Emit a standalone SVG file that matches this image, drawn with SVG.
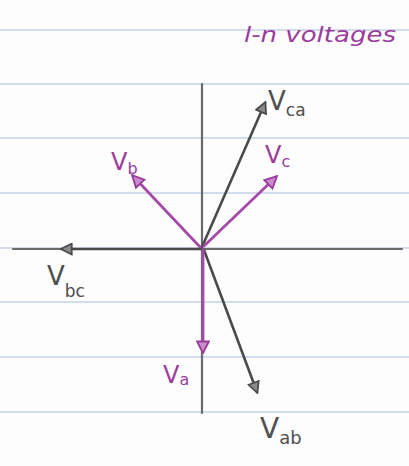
<svg xmlns="http://www.w3.org/2000/svg" width="409" height="466" viewBox="0 0 409 466">
<defs>
<style>
.rule{stroke:#c3d0e6;stroke-width:1.3}
.axis{stroke:#6b6b6b;stroke-width:2.2;fill:none;stroke-linecap:round}
.ll{stroke:#4a4a4a;stroke-width:2.6;fill:none;stroke-linecap:round}
.ln{stroke:#a64aa8;stroke-width:2.8;fill:none;stroke-linecap:round}
.tg{fill:#4f4f4f;font-family:"DejaVu Sans",sans-serif}
.tp{fill:#9b3c9d;font-family:"DejaVu Sans",sans-serif}
</style>
<marker id="ag" viewBox="0 0 12 12" refX="10" refY="6" markerWidth="5" markerHeight="5" orient="auto" markerUnits="strokeWidth">
<path d="M1,1 L11,6 L1,11 Z" fill="#8a8a8a" stroke="#4a4a4a" stroke-width="1.6"/>
</marker>
<marker id="ap" viewBox="0 0 12 12" refX="10" refY="6" markerWidth="5" markerHeight="5" orient="auto" markerUnits="strokeWidth">
<path d="M1,1 L11,6 L1,11 Z" fill="#c98bcb" stroke="#9b3c9d" stroke-width="1.6"/>
</marker>
</defs>
<rect width="409" height="466" fill="#fdfdfd"/>
<g id="paper">
<line class="rule" x1="0" y1="30" x2="409" y2="30"/>
<line class="rule" x1="0" y1="84" x2="409" y2="84"/>
<line class="rule" x1="0" y1="138" x2="409" y2="138"/>
<line class="rule" x1="0" y1="193" x2="409" y2="193"/>
<line class="rule" x1="0" y1="248" x2="409" y2="248"/>
<line class="rule" x1="0" y1="302" x2="409" y2="302"/>
<line class="rule" x1="0" y1="357" x2="409" y2="357"/>
<line class="rule" x1="0" y1="412" x2="409" y2="412"/>
</g>
<g id="axes">
<line class="axis" x1="202" y1="84" x2="202" y2="413"/>
<line class="axis" x1="13" y1="249" x2="402" y2="249"/>
</g>
<g id="connectors">
<line class="ll" x1="202" y1="249" x2="62" y2="249" marker-end="url(#ag)"/>
<line class="ll" x1="202" y1="247" x2="265" y2="103" marker-end="url(#ag)"/>
<line class="ll" x1="204" y1="250" x2="257" y2="392" marker-end="url(#ag)"/>
<line class="ln" x1="203" y1="250" x2="203" y2="352" marker-end="url(#ap)"/>
<line class="ln" x1="200" y1="247" x2="133" y2="176" marker-end="url(#ap)"/>
<line class="ln" x1="204" y1="246" x2="276" y2="177" marker-end="url(#ap)"/>
</g>
<g id="title"><text class="tp" x="244" y="42" font-size="22" font-style="italic" textLength="152" lengthAdjust="spacingAndGlyphs">l-n voltages</text></g>
<g id="Vca"><text class="tg" x="268" y="110" font-size="26">V<tspan font-size="17" dy="6">ca</tspan></text></g>
<g id="Vc"><text class="tp" x="265" y="163" font-size="24">V<tspan font-size="16" dy="4">c</tspan></text></g>
<g id="Vb"><text class="tp" x="111" y="170" font-size="24">V<tspan font-size="16" dy="4">b</tspan></text></g>
<g id="Vbc"><text class="tg" x="47" y="285" font-size="26">V<tspan font-size="17" dy="12">bc</tspan></text></g>
<g id="Va"><text class="tp" x="163" y="383" font-size="24">V<tspan font-size="16" dy="2">a</tspan></text></g>
<g id="Vab"><text class="tg" x="260" y="438" font-size="28">V<tspan font-size="18" dy="6">ab</tspan></text></g>
</svg>
